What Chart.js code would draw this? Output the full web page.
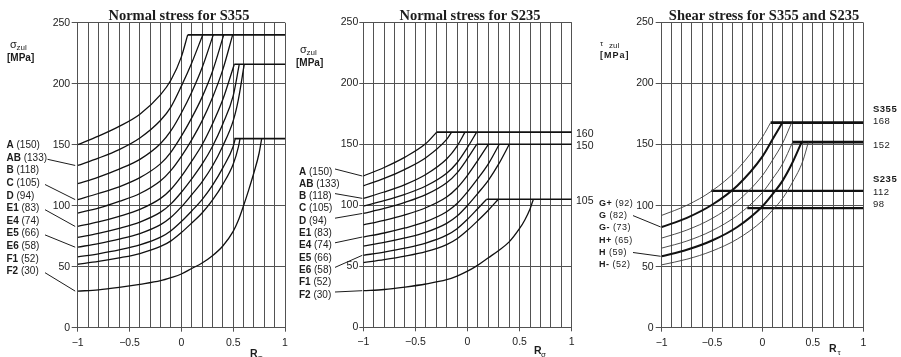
<!DOCTYPE html>
<html>
<head>
<meta charset="utf-8">
<title>Zulässige Spannungen</title>
<script src="https://cdn.jsdelivr.net/npm/chart.js"></script>
<style>
  html, body { margin: 0; padding: 0; background: #fff; }
  body { width: 901px; height: 357px; position: relative; overflow: hidden; }
  .pane { position: absolute; top: 0; }
</style>
</head>
<body>
<div class="pane" style="left:0px"><canvas id="p1" width="300" height="357"></canvas></div>
<div class="pane" style="left:290px"><canvas id="p2" width="310" height="357"></canvas></div>
<div class="pane" style="left:598px"><canvas id="p3" width="303" height="357"></canvas></div>
<script>
const rNormal = [-1, -0.8, -0.6, -0.4, -0.2, -0.1, 0, 0.1, 0.2, 0.3, 0.4, 0.5, 0.55, 0.6, 0.65, 0.7, 0.75];
const rShear = [-1, -0.75, -0.5, -0.25, 0, 0.1, 0.2, 0.3, 0.4];

const notchCodes = ['A', 'AB', 'B', 'C', 'D', 'E1', 'E4', 'E5', 'E6', 'F1', 'F2'];
const notchNominal = [150, 133, 118, 105, 94, 83, 74, 66, 58, 52, 30];

// S355, normal stress (values at rNormal up to the cut-off)
const s355Vals = [
  [150, 157, 165, 175, 191, 203, 222],
  [133, 139, 146, 155.5, 170, 181, 198, 217],
  [118, 123.5, 130, 138, 151, 161.5, 176, 193, 213],
  [105, 110, 115.5, 123, 134.5, 144, 157, 172, 189, 210],
  [94, 98, 103.5, 110, 120.5, 129, 140.5, 154, 169.5, 188.5, 211.5],
  [83, 86.7, 91.3, 97, 106, 113.5, 124, 136.5, 150, 167, 187],
  [74, 77.3, 81.4, 86.6, 94.7, 101.5, 111, 122, 134, 148.5, 167, 190],
  [66, 69, 72.6, 77.2, 84.5, 90.5, 99, 109, 119.5, 132.5, 149, 169.5, 187],
  [58, 60.6, 63.8, 67.9, 74.2, 79.5, 87, 95.7, 105, 116.6, 131, 148.5],
  [52, 54.3, 57.2, 60.8, 66.6, 71.2, 78, 85.8, 94, 104.5, 117.5, 134, 148],
  [30, 31, 33, 35.5, 38.5, 41, 44, 48.5, 53, 59, 67, 79, 88, 100, 113, 127, 143]
];
const s355EndR = [0.061, 0.206, 0.308, 0.409, 0.495, 0.511, 0.559, 0.607, 0.52, 0.566, 0.775];
const s355Cap = [240, 240, 240, 240, 240, 216, 216, 216, 155, 155, 155];
const s355Levels = [240, 216, 155];
const s355LevelFrom = [0.061, 0.511, 0.511];

// S235, normal stress
const s235Vals = [
  [124, 131, 139.5, 150.6],
  [116, 122, 129.5, 139, 154],
  [105.7, 110.9, 117, 125.3, 138, 148.5],
  [99.4, 103.8, 109, 115.8, 126.3, 134.9, 147.4],
  [93.3, 97.4, 102.4, 108.7, 118.5, 126.6, 138.4],
  [84, 87.7, 92.2, 98, 106.8, 114.2, 124.6, 136.9],
  [74, 77.3, 81.4, 86.6, 94.7, 101.4, 111, 122, 134],
  [66.6, 69.6, 73.3, 77.9, 85.2, 91.2, 99.9, 109.9, 120.5, 133.9],
  [59, 61.7, 64.9, 69, 75.5, 80.8, 88.5, 97.4],
  [53, 55.4, 58.3, 62, 67.8, 72.6, 79.5, 87.5, 96],
  [30, 31, 33, 35.5, 39, 42, 46, 51, 57, 63, 70, 81, 88, 97]
];
const s235EndR = [-0.296, -0.152, -0.024, 0.088, 0.088, 0.2, 0.305, 0.401, 0.184, 0.296, 0.632];
const s235Cap = [160, 160, 160, 160, 150, 150, 150, 150, 105, 105, 105];
const s235Levels = [160, 150, 105];
const s235LevelFrom = [-0.296, 0.088, 0.184];

// shear, both steels
const shearCodes = ['G+', 'G', 'G-', 'H+', 'H', 'H-'];
const shearNominal = [92, 82, 73, 65, 59, 52];
const shearBold = [false, true, false, false, true, false];
const shearVals = [
  [92, 100.3, 112.2, 129.7, 156.4],
  [82.5, 90, 100.7, 116.3, 140.3, 154.3],
  [73.4, 80, 89.5, 103.5, 124.8, 137.3, 151.2],
  [65.2, 71, 79.5, 92, 110.8, 122, 134.3],
  [58.5, 63.8, 71.4, 82.5, 99.5, 109.4, 120.5, 135.7],
  [51.5, 56.1, 62.8, 72.6, 87.6, 96.3, 106, 119.5, 136.5]
];
const shearEndR = [0.081, 0.197, 0.289, 0.299, 0.388, 0.455];
const shearCap = [168, 168, 168, 152, 152, 152];
const shearLevels = [168, 152, 112, 98];
const shearLevelFrom = [0.081, 0.299, -0.508, -0.151];

const SANS = '"Liberation Sans", Arial, sans-serif';
const SERIF = '"Liberation Serif", "Times New Roman", serif';
const INK = '#1c1c1c';
const GRID = '#525252';

const isMajor = v => Math.abs(v * 2 - Math.round(v * 2)) < 1e-6;
const fmtR = v => {
  if (!isMajor(v)) return '';
  const r = Math.round(v * 2) / 2;
  return r < 0 ? '\u2212' + String(-r) : String(r);
};

function curve(rs, vals, endR, cap) {
  const pts = vals.map((v, i) => ({ x: rs[i], y: v }));
  pts.push({ x: endR, y: cap });
  return pts;
}

function label(ctx, code, val, x, y, size) {
  ctx.textAlign = 'left';
  ctx.font = 'bold ' + size + 'px ' + SANS;
  ctx.fillText(code, x, y);
  const w = ctx.measureText(code).width;
  ctx.font = size + 'px ' + SANS;
  ctx.fillText(' (' + val + ')', x + w, y);
}

function leader(ctx, x1, y1, x2, y2) {
  ctx.beginPath();
  ctx.moveTo(x1, y1);
  ctx.lineTo(x2, y2);
  ctx.stroke();
}

function sub(ctx, main, s, x, y, mainFont, subFont, dx, dy) {
  ctx.textAlign = 'left';
  ctx.font = mainFont;
  ctx.fillText(main, x, y);
  ctx.font = subFont;
  ctx.fillText(s, x + dx, y + dy);
}

function makeChart(id, o) {
  return new Chart(document.getElementById(id), {
    type: 'line',
    data: { datasets: o.datasets },
    options: {
      responsive: false,
      animation: false,
      devicePixelRatio: 1,
      layout: { padding: { left: 0, top: o.top, right: o.right, bottom: 0 } },
      plugins: { legend: { display: false }, tooltip: { enabled: false } },
      elements: { point: { radius: 0 } },
      scales: {
        x: {
          type: 'linear', min: -1, max: 1,
          afterFit: s => { s.height = o.xH; },
          ticks: {
            stepSize: 0.1, autoSkip: false, maxRotation: 0, padding: 5,
            color: INK, font: { family: SANS, size: 10.5 },
            callback: v => fmtR(v)
          },
          grid: {
            color: GRID, lineWidth: 1, tickLength: 4,
            tickColor: c => (c.tick && isMajor(c.tick.value)) ? GRID : 'rgba(0,0,0,0)'
          },
          border: { color: GRID }
        },
        y: {
          type: 'linear', min: 0, max: 250,
          afterFit: s => { s.width = o.yW; },
          ticks: { stepSize: 50, padding: o.yPad, color: INK, font: { family: SANS, size: 10.5 } },
          grid: { color: GRID, lineWidth: 1, tickLength: o.yTick },
          border: { color: GRID }
        }
      }
    },
    plugins: [{ id: 'notes_' + id, afterDraw: chart => o.draw(chart) }]
  });
}

function normalSets(rs, vals, endR, cap, levels, from) {
  const sets = vals.map((v, i) => ({
    data: curve(rs, v, endR[i], cap[i]),
    borderColor: '#111', borderWidth: 1.3, cubicInterpolationMode: 'monotone', pointRadius: 0
  }));
  levels.forEach((lv, i) => sets.push({
    data: [{ x: from[i], y: lv }, { x: 1, y: lv }],
    borderColor: '#111', borderWidth: 1.6, pointRadius: 0
  }));
  return sets;
}

// ---------- panel 1: S355 ----------
makeChart('p1', {
  top: 22.7, right: 15, xH: 29.3, yW: 77.7, yPad: 1.5, yTick: 6,
  datasets: normalSets(rNormal, s355Vals, s355EndR, s355Cap, s355Levels, s355LevelFrom),
  draw(chart) {
    const ctx = chart.ctx, xs = chart.scales.x, ys = chart.scales.y;
    ctx.save();
    ctx.fillStyle = INK; ctx.strokeStyle = INK; ctx.lineWidth = 1;
    ctx.textAlign = 'center';
    ctx.font = 'bold 14.5px ' + SERIF;
    ctx.fillText('Normal stress for S355', 179, 19.5);
    sub(ctx, '\u03c3', 'zul', 10, 47.5, '11px ' + SANS, '8px ' + SANS, 6.5, 2.5);
    ctx.font = 'bold 10px ' + SANS;
    ctx.fillText('[MPa]', 7, 60.5);
    notchCodes.forEach((c, i) => label(ctx, c, notchNominal[i], 6.5, 148.2 + 12.6 * i, 10));
    [1, 3, 5, 7, 10].forEach(i => {
      const yc = 148.2 + 12.6 * i - 3.5;
      leader(ctx, i === 1 ? 47.5 : 45, yc + 2, xs.left - 2.5, ys.getPixelForValue(s355Vals[i][0]));
    });
    sub(ctx, 'R', '\u03c3', 250, 356.5, 'bold 10.5px ' + SANS, '8px ' + SANS, 7.5, 3);
    ctx.restore();
  }
});

// ---------- panel 2: S235 ----------
const OFF2 = 290;
makeChart('p2', {
  top: 22.3, right: 28.3, xH: 29.7, yW: 73.3, yPad: 1, yTick: 4,
  datasets: normalSets(rNormal, s235Vals, s235EndR, s235Cap, s235Levels, s235LevelFrom),
  draw(chart) {
    const ctx = chart.ctx, xs = chart.scales.x, ys = chart.scales.y;
    ctx.save();
    ctx.translate(-OFF2, 0);
    ctx.fillStyle = INK; ctx.strokeStyle = INK; ctx.lineWidth = 1;
    ctx.textAlign = 'center';
    ctx.font = 'bold 14.5px ' + SERIF;
    ctx.fillText('Normal stress for S235', 470, 19.5);
    sub(ctx, '\u03c3', 'zul', 300, 52.5, '11px ' + SANS, '8px ' + SANS, 6.5, 2.5);
    ctx.font = 'bold 10px ' + SANS;
    ctx.fillText('[MPa]', 296, 66);
    notchCodes.forEach((c, i) => label(ctx, c, notchNominal[i], 299, 174.5 + 12.3 * i, 10));
    [0, 2, 4, 6, 8, 10].forEach(i => {
      const yc = 174.5 + 12.3 * i - 3.5;
      leader(ctx, 335, yc - 2, xs.left + OFF2 - 1, ys.getPixelForValue(s235Vals[i][0]));
    });
    ctx.font = '10.5px ' + SANS;
    s235Levels.forEach(lv => ctx.fillText(String(lv), 576, ys.getPixelForValue(lv) + 4.5));
    sub(ctx, 'R', '\u03c3', 534, 354, 'bold 10.5px ' + SANS, '8px ' + SANS, 7, 3);
    ctx.restore();
  }
});

// ---------- panel 3: shear ----------
const OFF3 = 598;
const shearSets = shearVals.map((v, i) => ({
  data: curve(rShear, v, shearEndR[i], shearCap[i]),
  borderColor: shearBold[i] ? '#111' : '#3a3a3a',
  borderWidth: shearBold[i] ? 2 : 0.9,
  cubicInterpolationMode: 'monotone', pointRadius: 0
}));
shearLevels.forEach((lv, i) => shearSets.push({
  data: [{ x: shearLevelFrom[i], y: lv }, { x: 1, y: lv }],
  borderColor: '#111', borderWidth: i < 2 ? 2.6 : 2.2, pointRadius: 0
}));
const shearRight = [['S355', true, 112], ['168', false, 124], ['152', false, 148],
                    ['S235', true, 182], ['112', false, 195], ['98', false, 207]];

makeChart('p3', {
  top: 22.5, right: 37.7, xH: 29.3, yW: 63.7, yPad: 2, yTick: 6,
  datasets: shearSets,
  draw(chart) {
    const ctx = chart.ctx, xs = chart.scales.x, ys = chart.scales.y;
    ctx.save();
    ctx.translate(-OFF3, 0);
    ctx.fillStyle = INK; ctx.strokeStyle = INK; ctx.lineWidth = 1;
    ctx.textAlign = 'center';
    ctx.font = 'bold 14.5px ' + SERIF;
    ctx.fillText('Shear stress for S355 and S235', 764, 19.5);
    sub(ctx, '\u03c4', 'zul', 600, 45.5, '8px ' + SANS, '8px ' + SANS, 9, 2.5);
    if ('letterSpacing' in ctx) ctx.letterSpacing = '1px';
    ctx.font = 'bold 9px ' + SANS;
    ctx.textAlign = 'left';
    ctx.fillText('[MPa]', 600, 57.5);
    if ('letterSpacing' in ctx) ctx.letterSpacing = '0.5px';
    shearCodes.forEach((c, i) => label(ctx, c, shearNominal[i], 599, 205.8 + 12.3 * i, 9));
    [1, 4].forEach(i => {
      const yc = 205.8 + 12.3 * i - 3.5;
      leader(ctx, 633, yc + 1, xs.left + OFF3 - 1, ys.getPixelForValue(shearVals[i][0]));
    });
    shearRight.forEach(([t, b, y]) => {
      ctx.font = (b ? 'bold ' : '') + '9.5px ' + SANS;
      ctx.fillText(t, 873, y);
    });
    if ('letterSpacing' in ctx) ctx.letterSpacing = '0px';
    sub(ctx, 'R', '\u03c4', 829, 351.5, 'bold 10.5px ' + SANS, '8px ' + SANS, 8.5, 3.5);
    ctx.restore();
  }
});
</script>
</body>
</html>
